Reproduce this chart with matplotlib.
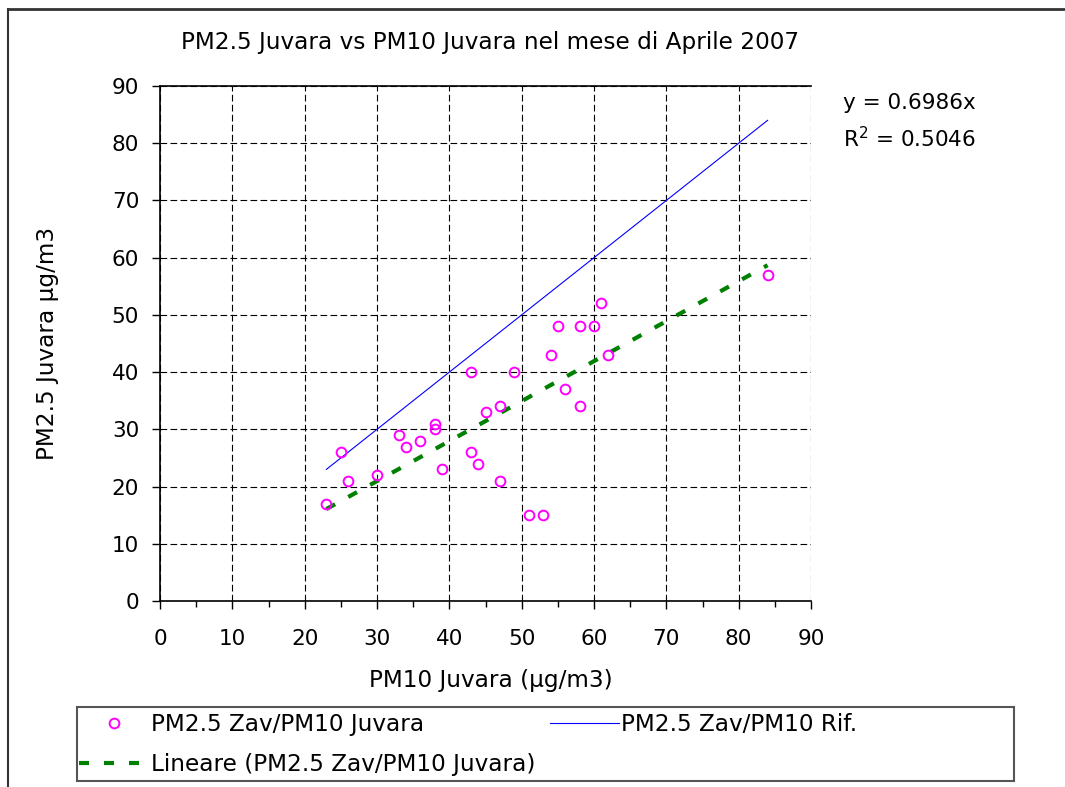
import numpy as np
import matplotlib.pyplot as plt
from matplotlib.lines import Line2D
from matplotlib.patches import Rectangle
from matplotlib.ticker import MultipleLocator

plt.rcParams['font.family'] = ['DejaVu Sans']
plt.rcParams['mathtext.fontset'] = 'dejavusans'

# dati
pm10_juvara = [23, 25, 26, 30, 33, 34, 36, 38, 38, 39, 43, 43, 44, 45, 47, 47, 49,
               51, 53, 54, 55, 56, 58, 58, 60, 61, 62, 84]
pm25_zav = [17, 26, 21, 22, 29, 27, 28, 31, 30, 23, 40, 26, 24, 33, 34, 21, 40,
            15, 15, 43, 48, 37, 48, 34, 48, 52, 43, 57]
rif_x = [23, 84]
slope = 0.6986
r2 = 0.5046

title = 'PM2.5 Juvara vs PM10 Juvara nel mese di Aprile 2007'
xlabel = 'PM10 Juvara (µg/m3)'
ylabel = 'PM2.5 Juvara µg/m3'
lab_scatter = 'PM2.5 Zav/PM10 Juvara'
lab_rif = 'PM2.5 Zav/PM10 Rif.'
lab_trend = 'Lineare (PM2.5 Zav/PM10 Juvara)'

fs = 15.5      # tick e equazione
fs_lab = 16.7  # titolo, assi, legenda
W, H = 1065, 787
fig = plt.figure(figsize=(W/100, H/100), dpi=100)
ax = fig.add_axes([160/W, 1-601/H, (811-160)/W, (601-86)/H])

sc, = ax.plot(pm10_juvara, pm25_zav, 'o', ls='none', mfc='none', mec='#FF00FF',
              ms=7, mew=1.4, label=lab_scatter, zorder=5)
rx = np.array(rif_x)
ref, = ax.plot(rx, rx, color='#0000FF', lw=0.8, label=lab_rif, zorder=4)
tr, = ax.plot(rx, slope*rx, color='#008000', lw=3, label=lab_trend, zorder=3,
              solid_capstyle='butt', dash_capstyle='butt')
tr.set_dashes([2.4, 3.6])

ax.set_xlim(0, 90)
ax.set_ylim(0, 90)
ax.xaxis.set_major_locator(MultipleLocator(10))
ax.yaxis.set_major_locator(MultipleLocator(10))
ax.xaxis.set_minor_locator(MultipleLocator(5))
ax.tick_params(axis='both', which='major', direction='out', length=6, width=1,
               labelsize=fs, color='black')
ax.tick_params(axis='x', which='major', pad=14)
ax.tick_params(axis='y', which='major', pad=9)
ax.tick_params(axis='x', which='minor', direction='out', length=4, width=1)
ax.tick_params(axis='y', which='minor', length=0)
ax.grid(True, which='major', color='black', lw=0.8, ls=(0, (6, 3)))
ax.set_axisbelow(True)
for s in ['left', 'bottom', 'top']:
    ax.spines[s].set_color('black')
    ax.spines[s].set_linewidth(1.2)
ax.spines['right'].set_visible(False)

fig.text(490/W, 1-43/H, title, ha='center', va='center', fontsize=fs_lab)
fig.text(491/W, 1-680/H, xlabel, ha='center', va='center', fontsize=fs_lab)
fig.text(48/W, 1-343/H, ylabel, ha='center', va='center', rotation=90, fontsize=fs_lab)

fig.text(843/W, 1-103/H, 'y = %.4fx' % slope, ha='left', va='center', fontsize=fs)
fig.text(843/W, 1-139/H, r'R$^2$ = %.4f' % r2, ha='left', va='center', fontsize=fs)

# riquadro legenda
fig.add_artist(Rectangle((77/W, 1-781/H), (1014-77)/W, (781-707)/H, transform=fig.transFigure,
                         fill=False, edgecolor='#555555', lw=1.5))
leg = fig.legend([sc, tr, ref], [lab_scatter, lab_trend, lab_rif], ncol=2,
                 loc='upper left', bbox_to_anchor=(77/W, 1-711/H),
                 fontsize=fs_lab, handlelength=3.0, handletextpad=0.1,
                 borderaxespad=0, borderpad=0.1, labelspacing=0.72, columnspacing=0.6,
                 frameon=False)

# cornice del grafico
fig.add_artist(Line2D([8/W, 8/W], [0, 1-9/H], color='#333333', lw=1.5))
fig.add_artist(Line2D([8/W, 1], [1-9/H, 1-9/H], color='#333333', lw=2))

fig.savefig('out.png', dpi=100)
